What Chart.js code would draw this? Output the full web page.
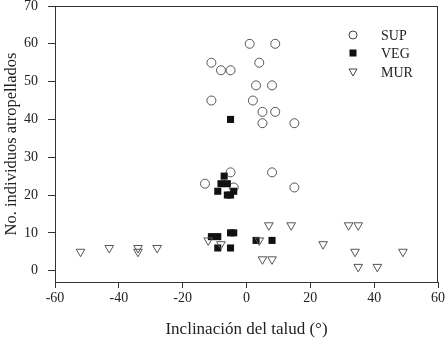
<!DOCTYPE html>
<html>
<head>
<meta charset="utf-8">
<script src="https://cdn.jsdelivr.net/npm/chart.js@4/dist/chart.umd.min.js"></script>
<style>
  html, body { margin: 0; padding: 0; background: #fff; }
  #wrap { width: 445px; height: 342px; }
</style>
</head>
<body>
<div id="wrap"><canvas id="chart"></canvas></div>
<script>
// datos
const seriesNames = ['SUP', 'VEG', 'MUR'];
const supX = [1, 9, -11, -8, -5, 4, 3, 8, -11, 2, 5, 9, 5, 15, -5, 8, -13, 15, -4];
const supY = [60, 60, 55, 53, 53, 55, 49, 49, 45, 45, 42, 42, 39, 39, 26, 26, 23, 22, 22];
const vegX = [-5, -7, -8, -6, -9, -6, -5, -4, -11, -9, -5, -4, -9, -5, 3, 8];
const vegY = [40, 25, 23, 23, 21, 20, 20, 21, 9, 9, 10, 10, 6, 6, 8, 8];
const murX = [-52, -43, -34, -34, -28, -12, -8, 4, 7, 14, 5, 8, 24, 32, 35, 34, 49, 35, 41];
const murY = [5, 6, 6, 5, 6, 8, 7, 8, 12, 12, 3, 3, 7, 12, 12, 5, 5, 1, 1];
const xTicks = [-60, -40, -20, 0, 20, 40, 60];
const yTicks = [0, 10, 20, 30, 40, 50, 60, 70];

function pts(xs, ys) {
  return xs.map((x, i) => ({ x: x, y: ys[i] }));
}

const serif = 'Liberation Serif, Times New Roman, serif';

// marco completo y leyenda dentro del area
const framePlugin = {
  id: 'frame',
  afterDraw(chart) {
    const ctx = chart.ctx;
    const a = chart.chartArea;
    ctx.save();
    ctx.strokeStyle = '#333';
    ctx.lineWidth = 1;
    ctx.strokeRect(a.left + 0.5, a.top + 0.5, a.right - a.left - 1, a.bottom - a.top);
    // leyenda
    const lx = 353, ly = [35, 53, 72];
    ctx.font = '14px ' + serif;
    ctx.textBaseline = 'middle';
    seriesNames.forEach((name, i) => {
      const y = ly[i];
      ctx.beginPath();
      ctx.strokeStyle = '#444';
      ctx.lineWidth = 1;
      if (i == 0) {
        ctx.arc(lx, y, 4, 0, Math.PI * 2);
        ctx.stroke();
      } else if (i == 1) {
        ctx.fillStyle = '#111';
        ctx.fillRect(lx - 3.5, y - 3.5, 7, 7);
      } else {
        ctx.moveTo(lx - 4, y - 3);
        ctx.lineTo(lx + 4, y - 3);
        ctx.lineTo(lx, y + 4);
        ctx.closePath();
        ctx.stroke();
      }
      ctx.fillStyle = '#222';
      ctx.fillText(name, 381, y + 1);
    });
    ctx.restore();
  }
};

new Chart(document.getElementById('chart'), {
  type: 'scatter',
  data: {
    datasets: [
      {
        label: seriesNames[0],
        data: pts(supX, supY),
        pointStyle: 'circle',
        pointRadius: 4.5,
        pointBorderWidth: 1,
        pointBorderColor: '#555',
        pointBackgroundColor: 'rgba(0,0,0,0)',
        order: 3
      },
      {
        label: seriesNames[1],
        data: pts(vegX, vegY),
        pointStyle: 'rect',
        pointRadius: 5,
        pointBorderWidth: 0,
        pointBackgroundColor: '#111',
        order: 2
      },
      {
        label: seriesNames[2],
        data: pts(murX, murY),
        pointStyle: 'triangle',
        pointRotation: 180,
        pointRadius: 5,
        pointBorderWidth: 1,
        pointBorderColor: '#555',
        pointBackgroundColor: 'rgba(0,0,0,0)',
        order: 1
      }
    ]
  },
  options: {
    responsive: true,
    maintainAspectRatio: false,
    animation: false,
    layout: { padding: { top: 5, right: 7, left: 0, bottom: 0 } },
    plugins: {
      legend: { display: false },
      tooltip: { enabled: false }
    },
    scales: {
      x: {
        type: 'linear',
        min: -60,
        max: 60,
        afterBuildTicks: (s) => { s.ticks = xTicks.map(v => ({ value: v })); },
        afterFit: (s) => { s.height = 60; s.paddingLeft = 0; s.paddingRight = 0; },
        grid: { drawOnChartArea: false, tickLength: 6, color: '#333', lineWidth: 1 },
        border: { display: true, color: '#333' },
        ticks: { color: '#222', padding: 2, font: { family: serif, size: 14 } },
        title: {
          display: true,
          text: 'Inclinación del talud (°)',
          color: '#222',
          font: { family: serif, size: 17 },
          padding: { top: 0, bottom: 2 }
        }
      },
      y: {
        type: 'linear',
        min: -3,
        max: 70,
        afterBuildTicks: (s) => { s.ticks = yTicks.map(v => ({ value: v })); },
        afterFit: (s) => { s.width = 55; s.paddingTop = 0; s.paddingBottom = 0; },
        grid: { drawOnChartArea: false, tickLength: 7, color: '#333', lineWidth: 1 },
        border: { display: true, color: '#333' },
        ticks: { color: '#222', padding: 10, font: { family: serif, size: 14 } },
        title: {
          display: true,
          text: 'No. individuos atropellados',
          color: '#222',
          font: { family: serif, size: 16.5 },
          padding: { top: 2, bottom: 0 }
        }
      }
    }
  },
  plugins: [framePlugin]
});
</script>
</body>
</html>
